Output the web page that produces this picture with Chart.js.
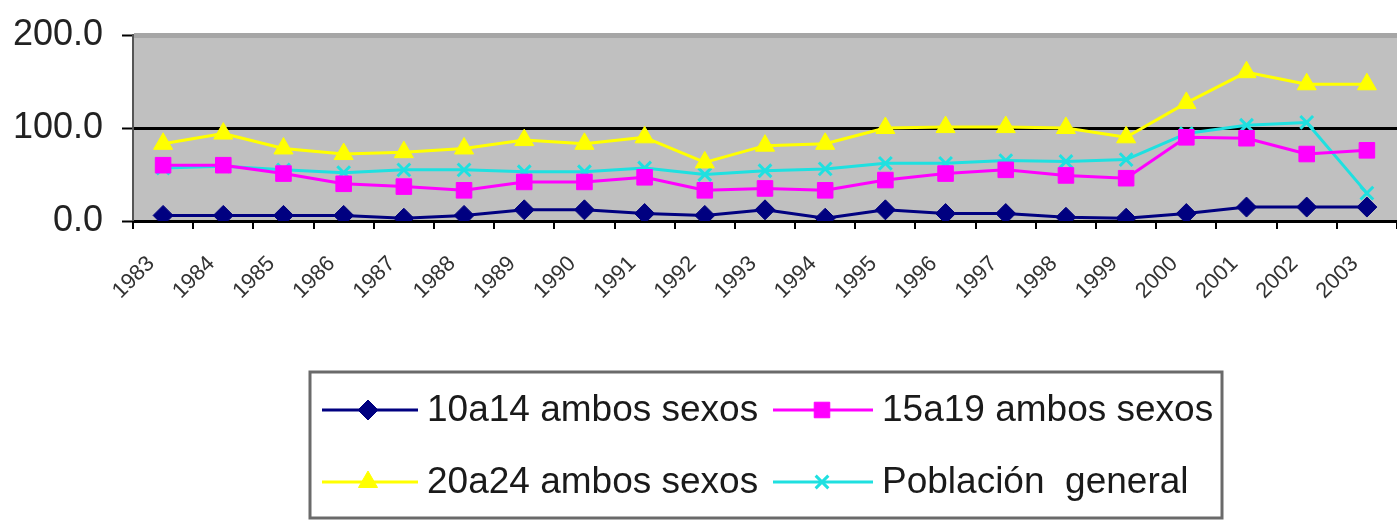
<!DOCTYPE html>
<html>
<head>
<meta charset="utf-8">
<script src="https://cdn.jsdelivr.net/npm/chart.js@4.4.1/dist/chart.umd.min.js"></script>
<style>
html,body{margin:0;padding:0;background:#fff;overflow:hidden;}
canvas{display:block;}
</style>
</head>
<body>
<canvas id="c" width="1397" height="522"></canvas>
<script>
const years = ["1983","1984","1985","1986","1987","1988","1989","1990","1991","1992","1993","1994","1995","1996","1997","1998","1999","2000","2001","2002","2003"];
const s10a14 = [6,6,6,6,3,6,12,12,8,6,12,3,12,8,8,4,3,8,15,15,15];
const s15a19 = [60,60,51,40,37,33,42,42,47,33,35,33,44,51,55,49,46,90,89,72,76];
const s20a24 = [83,94,78,72,74,78,87,83,90,63,81,83,100,101,101,100,90,127,160,147,147];
const sPoblacion = [57,59,55,52,55,55,53,53,57,50,54,56,62,62,65,64,66,94,103,106,30];
const seriesNames = ["10a14 ambos sexos","15a19 ambos sexos","20a24 ambos sexos","Población  general"];
const yTicks = [0,100,200];

const FONT = "'Liberation Sans', Arial, sans-serif";

const bgPlugin = {
  id: 'bg',
  beforeDraw(chart) {
    const ctx = chart.ctx, a = chart.chartArea;
    ctx.save();
    ctx.fillStyle = '#ffffff';
    ctx.fillRect(0, 0, chart.width, chart.height);
    ctx.fillStyle = '#c0c0c0';
    ctx.fillRect(a.left, a.top, a.right - a.left, a.bottom - a.top);
    ctx.restore();
  }
};

// short tick marks between categories, below the x axis
const xTickPlugin = {
  id: 'xTicks',
  afterDraw(chart) {
    const sx = chart.scales.x, ctx = chart.ctx;
    const n = sx.ticks.length;
    const step = n > 1 ? sx.getPixelForTick(1) - sx.getPixelForTick(0) : sx.width;
    ctx.save();
    ctx.strokeStyle = '#000';
    ctx.lineWidth = 2;
    ctx.beginPath();
    for (let i = 0; i <= n; i++) {
      const x = Math.round((i < n ? sx.getPixelForTick(i) - step / 2 : sx.getPixelForTick(n - 1) + step / 2));
      ctx.moveTo(x, sx.top);
      ctx.lineTo(x, sx.top + 8);
    }
    ctx.stroke();
    ctx.restore();
  }
};

const legendPlugin = {
  id: 'boxLegend',
  afterDraw(chart) {
    const ctx = chart.ctx;
    ctx.save();
    ctx.fillStyle = '#ffffff';
    ctx.fillRect(310, 372, 912, 146);
    ctx.strokeStyle = '#6a6a6a';
    ctx.lineWidth = 3;
    ctx.strokeRect(310, 372, 912, 146);
    const cols = [{l0:322,l1:418,m:368,t:427},{l0:773,l1:873,m:822,t:882}];
    const rows = [410, 482];
    chart.data.datasets.forEach((ds, i) => {
      const c = cols[i % 2], y = rows[Math.floor(i / 2)];
      ctx.strokeStyle = ds.borderColor;
      ctx.lineWidth = 3;
      ctx.beginPath();
      ctx.moveTo(c.l0, y);
      ctx.lineTo(c.l1, y);
      ctx.stroke();
      ctx.fillStyle = ds.pointBackgroundColor;
      ctx.strokeStyle = ds.pointBorderColor;
      ctx.lineWidth = ds.pointBorderWidth || 1;
      Chart.helpers.drawPoint(ctx, {
        pointStyle: ds.pointStyle,
        radius: ds.pointRadius,
        rotation: 0,
        borderWidth: ds.pointBorderWidth || 1
      }, c.m, y);
      ctx.fillStyle = '#1a1a1a';
      ctx.font = '37px ' + FONT;
      ctx.textBaseline = 'middle';
      ctx.textAlign = 'left';
      ctx.fillText(ds.label, c.t, y + 1);
    });
    ctx.restore();
  }
};

function mk(label, data, color, style, radius, bw) {
  return {
    label, data,
    borderColor: color,
    backgroundColor: color,
    pointBackgroundColor: color,
    pointBorderColor: color,
    pointStyle: style,
    pointRadius: radius,
    pointBorderWidth: bw,
    borderWidth: 3,
    tension: 0,
    fill: false
  };
}

new Chart(document.getElementById('c'), {
  type: 'line',
  data: {
    labels: years,
    datasets: [
      mk(seriesNames[0], s10a14, '#000080', 'rectRot', 10, 1),
      mk(seriesNames[1], s15a19, '#ff00ff', 'rect', 11, 1),
      mk(seriesNames[2], s20a24, '#ffff00', 'triangle', 11, 1),
      mk(seriesNames[3], sPoblacion, '#1fe0e0', 'crossRot', 9, 3)
    ]
  },
  options: {
    responsive: false,
    animation: false,
    devicePixelRatio: 1,
    layout: { autoPadding: false, padding: { top: 35, left: 13, right: 0, bottom: 223 } },
    plugins: { legend: { display: false }, tooltip: { enabled: false } },
    elements: { line: { borderJoinStyle: 'round' } },
    scales: {
      x: {
        type: 'category',
        offset: true,
        afterFit(scale) { scale.height = 78; },
        grid: {
          offset: true,
          drawOnChartArea: false,
          tickLength: 30,
          tickColor: 'rgba(0,0,0,0)',
          tickWidth: 2
        },
        border: { color: '#000', width: 3 },
        ticks: {
          autoSkip: false,
          maxRotation: 45,
          minRotation: 45,
          padding: 0,
          labelOffset: -12,
          color: '#333',
          font: { family: FONT, size: 22 }
        }
      },
      y: {
        min: 0, max: 200,
        afterFit(scale) { scale.width = 120; },
        afterBuildTicks(scale) { scale.ticks = yTicks.map(v => ({ value: v })); },
        grid: {
          color: ctx => ctx.tick && ctx.tick.value === 200 ? '#a6a6a6' : '#000',
          lineWidth: ctx => ctx.tick && ctx.tick.value === 200 ? 5 : 3,
          tickLength: 11,
          tickColor: '#000',
          tickWidth: 2
        },
        border: { color: '#555', width: 2 },
        ticks: {
          padding: 19,
          color: '#222',
          font: { family: FONT, size: 36, lineHeight: 0.88 },
          callback: v => Number(v).toFixed(1)
        }
      }
    }
  },
  plugins: [bgPlugin, xTickPlugin, legendPlugin]
});
</script>
</body>
</html>
